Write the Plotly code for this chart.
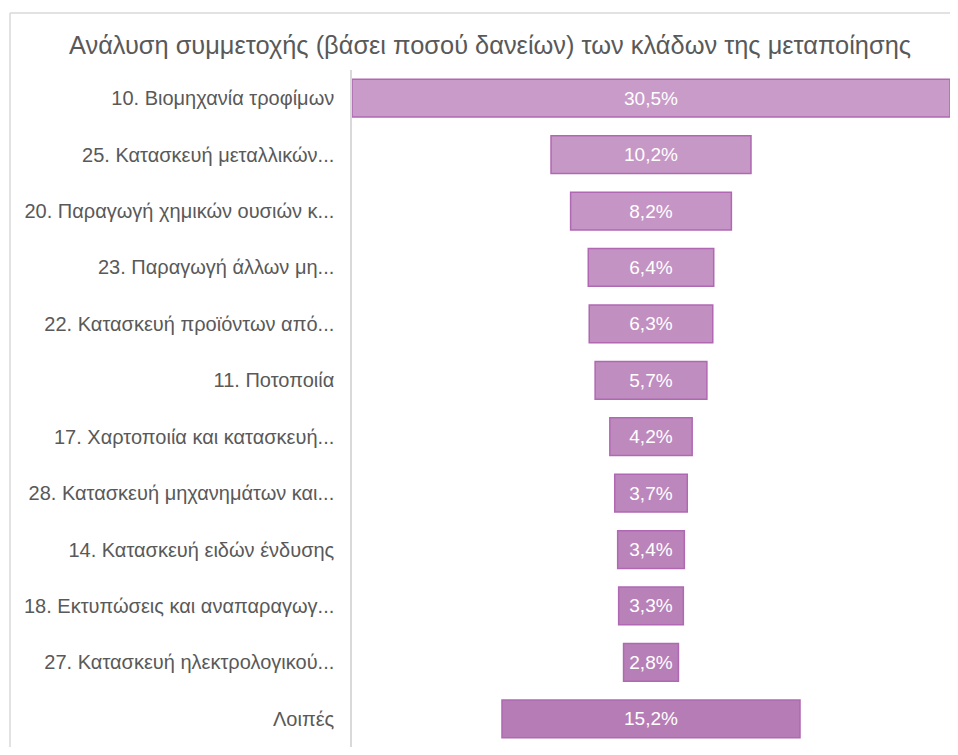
import plotly.graph_objects as go

categories = [
    "10. Βιομηχανία τροφίμων",
    "25. Κατασκευή μεταλλικών...",
    "20. Παραγωγή χημικών ουσιών κ...",
    "23. Παραγωγή άλλων μη...",
    "22. Κατασκευή προϊόντων από...",
    "11. Ποτοποιία",
    "17. Χαρτοποιία και κατασκευή...",
    "28. Κατασκευή μηχανημάτων και...",
    "14. Κατασκευή ειδών ένδυσης",
    "18. Εκτυπώσεις και αναπαραγωγ...",
    "27. Κατασκευή ηλεκτρολογικού...",
    "Λοιπές",
]
values = [30.5, 10.2, 8.2, 6.4, 6.3, 5.7, 4.2, 3.7, 3.4, 3.3, 2.8, 15.2]
title_text = "Ανάλυση συμμετοχής (βάσει ποσού δανείων) των κλάδων της μεταποίησης"

labels = [f"{v:.1f}".replace(".", ",") + "%" for v in values]

# page body has an 8px margin; size the figure so no scrollbars appear
W, H = 942, 739
L, R, T, B = 344, 0, 62, 0

top_c = (200, 155, 200)
bot_c = (181, 124, 181)
n = len(values)
colors = []
for i in range(n):
    t = i / (n - 1)
    c = tuple(round(top_c[k] + (bot_c[k] - top_c[k]) * t) for k in range(3))
    colors.append(f"rgb{c}")

fig = go.Figure(go.Funnel(
    y=categories,
    x=values,
    text=labels,
    textinfo="text",
    textposition="inside",
    insidetextanchor="middle",
    textfont=dict(color="white", size=19, family="Liberation Sans, Arial, sans-serif"),
    marker=dict(color=colors, line=dict(color="rgb(176,104,178)", width=1.5)),
    connector=dict(visible=False),
    hoverinfo="skip",
))

pw = W - L - R
ph = H - T - B
def px2paper_x(px):
    return (px - L) / pw
def py2paper_y(py):
    return 1 - (py - T) / ph

fig.update_layout(
    width=W, height=H,
    margin=dict(l=L, r=R, t=T, b=B),
    paper_bgcolor="white",
    plot_bgcolor="white",
    showlegend=False,
    funnelgap=0.33,
    title=dict(
        text=title_text,
        x=482 / W, xref="container", xanchor="center",
        y=1 - 37 / H, yref="container", yanchor="middle",
        font=dict(family="Liberation Sans, Arial, sans-serif", size=25.4, color="#595959"),
    ),
    xaxis=dict(visible=False, range=[-30.5 / 2, 30.5 / 2], fixedrange=True),
    yaxis=dict(
        showline=True, linecolor="#D9D9D9", linewidth=1.5,
        showgrid=False, ticks="", ticklen=0,
        tickfont=dict(family="Liberation Sans, Arial, sans-serif", size=20, color="#595959"),
        ticklabelstandoff=12,
        fixedrange=True,
    ),
    shapes=[
        dict(type="line", xref="paper", yref="paper",
             x0=px2paper_x(2), x1=px2paper_x(960), y0=py2paper_y(5), y1=py2paper_y(5),
             line=dict(color="#D9D9D9", width=1.5)),
        dict(type="line", xref="paper", yref="paper",
             x0=px2paper_x(2), x1=px2paper_x(2), y0=py2paper_y(5), y1=py2paper_y(760),
             line=dict(color="#D9D9D9", width=1.5)),
    ],
)

fig.write_html("out.html")
